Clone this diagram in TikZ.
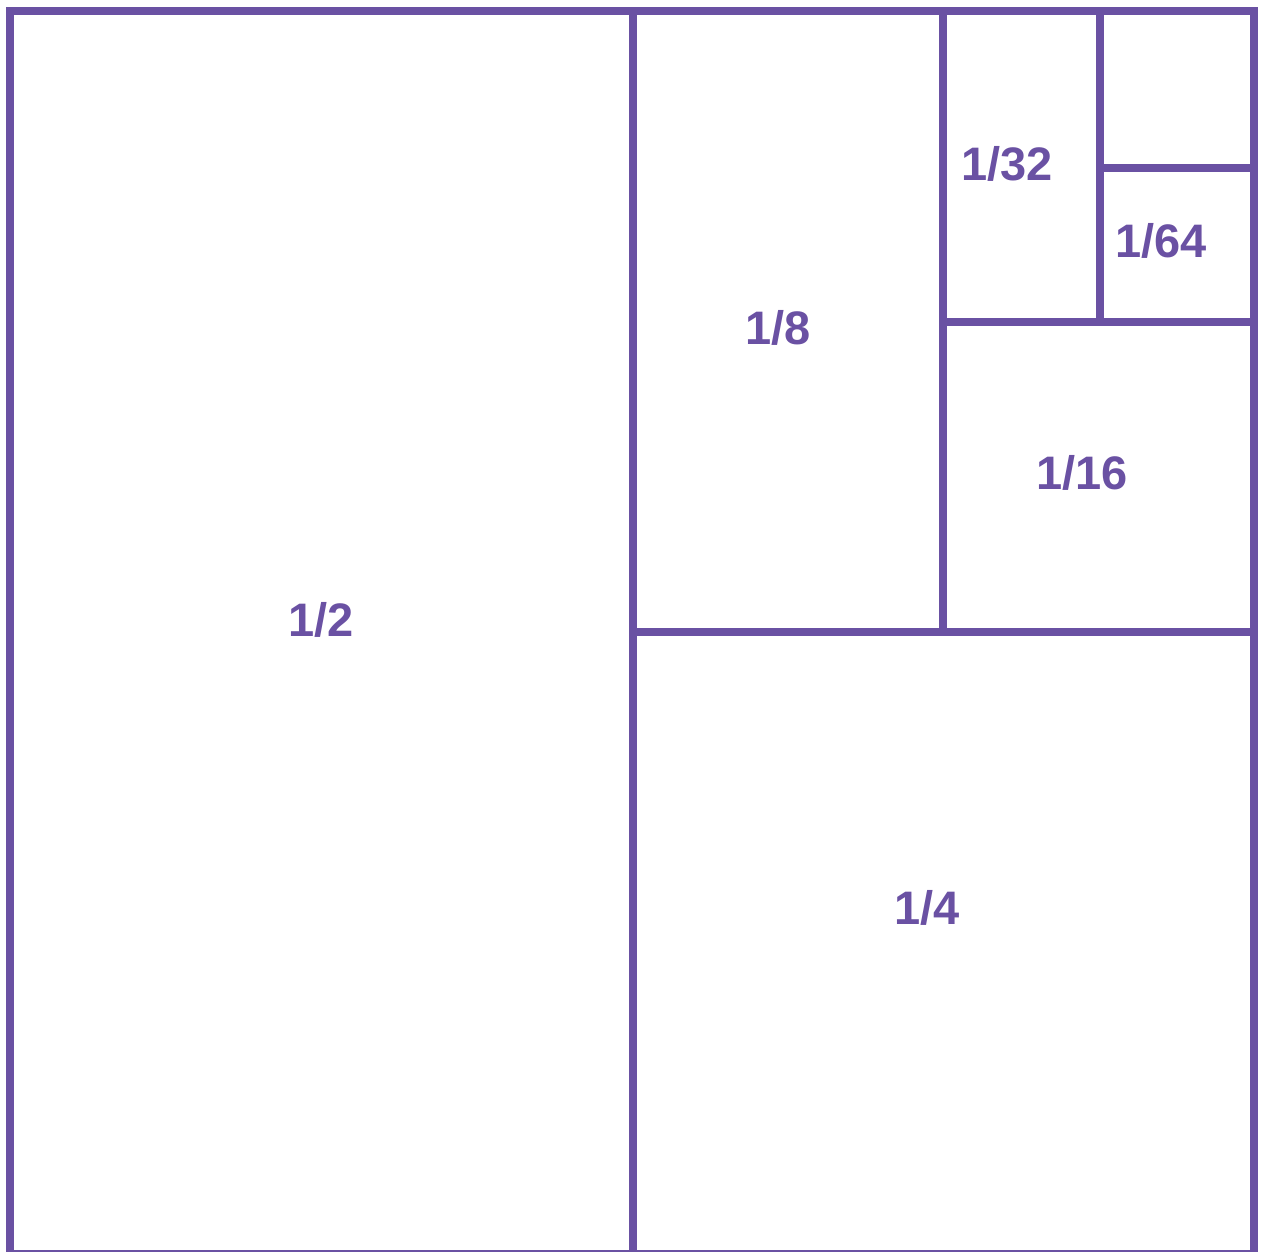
\documentclass[tikz,border=0pt]{standalone}
\usepackage{fontspec}
\setmainfont{Liberation Sans}
\definecolor{partcolor}{RGB}{106,81,163}

\begin{document}
\begin{tikzpicture}[x=0.5pt, y=-0.5pt, line join=miter,
    partline/.style={draw=partcolor, line width=4pt},
    partlabel/.style={text=partcolor, font=\fontsize{23.5}{28}\selectfont\bfseries, inner sep=0pt}]
      \useasboundingbox (0,0) rectangle (1261,1251);
      \coordinate (NW) at (9.5,11);
      \coordinate (SE) at (1254,1254);
      \coordinate (A) at (633,11);
      \coordinate (Ab) at (633,1254);
      \coordinate (H) at (633,632);
      \coordinate (He) at (1254,632);
      \coordinate (B) at (943,11);
      \coordinate (Bb) at (943,632);
      \coordinate (G) at (943,322);
      \coordinate (Ge) at (1254,322);
      \coordinate (C) at (1100,11);
      \coordinate (Cb) at (1100,322);
      \coordinate (F) at (1100,168);
      \coordinate (Fe) at (1254,168);
      
      \draw[partline] (NW) rectangle (SE);
      \draw[partline] (A) -- (Ab);
      \draw[partline] (H) -- (He);
      \draw[partline] (B) -- (Bb);
      \draw[partline] (G) -- (Ge);
      \draw[partline] (C) -- (Cb);
      \draw[partline] (F) -- (Fe);
      
      \node[partlabel] (half) at (321,620) {1/2};
      \node[partlabel] (quarter) at (927,908) {1/4};
      \node[partlabel] (eighth) at (778,328) {1/8};
      \node[partlabel] (sixteenth) at (1082,473) {1/16};
      \node[partlabel] (thirtysecond) at (1007,164) {1/32};
      \node[partlabel] (sixtyfourth) at (1161,241) {1/64};
    \end{tikzpicture}
\end{document}
